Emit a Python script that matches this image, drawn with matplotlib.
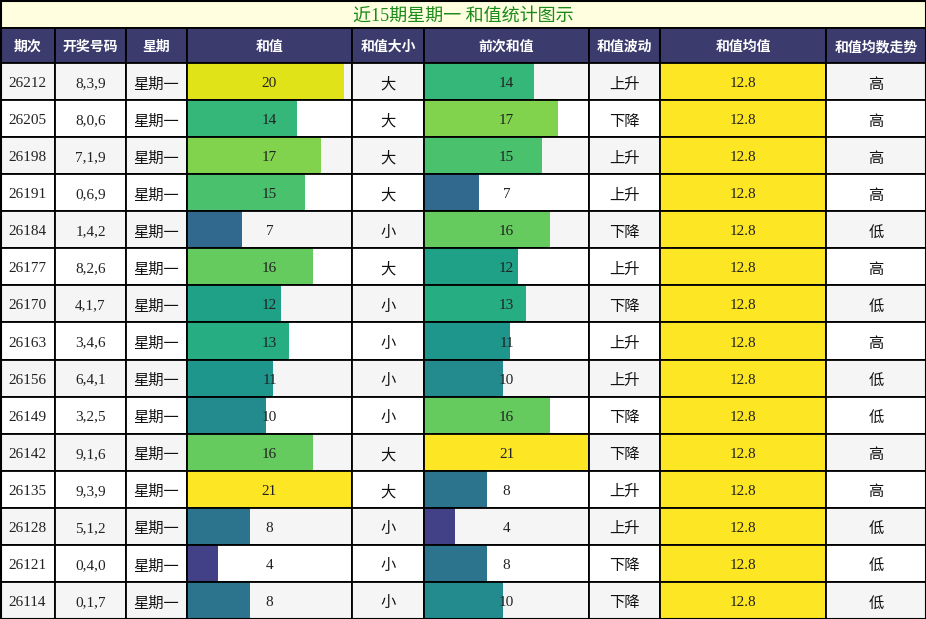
import matplotlib
matplotlib.use("Agg")
import matplotlib.pyplot as plt
from matplotlib.patches import Rectangle

issues = [26212, 26205, 26198, 26191, 26184, 26177, 26170, 26163,
          26156, 26149, 26142, 26135, 26128, 26121, 26114]
draws = ["8,3,9", "8,0,6", "7,1,9", "0,6,9", "1,4,2", "8,2,6", "4,1,7", "3,4,6",
         "6,4,1", "3,2,5", "9,1,6", "9,3,9", "5,1,2", "0,4,0", "0,1,7"]
weekday = "星期一"
sums = [20, 14, 17, 15, 7, 16, 12, 13, 11, 10, 16, 21, 8, 4, 8]
size_lbl = ["大", "大", "大", "大", "小", "大", "小", "小", "小", "小", "大", "大", "小", "小", "小"]
prev_sums = [14, 17, 15, 7, 16, 12, 13, 11, 10, 16, 21, 8, 4, 8, 10]
trend = ["上升", "下降", "上升", "上升", "下降", "上升", "下降", "上升",
         "上升", "下降", "下降", "上升", "上升", "下降", "下降"]
mean_val = 12.8
level = ["高", "高", "高", "高", "低", "高", "低", "高", "低", "低", "高", "高", "低", "低", "低"]

headers = ["期次", "开奖号码", "星期", "和值", "和值大小", "前次和值", "和值波动", "和值均值", "和值均数走势"]
col_w = [55, 71, 61, 165, 72, 165, 71, 166, 100]
title = "近15期星期一 和值统计图示"

W, H = 926, 619
title_h = 28
head_h = 35
row_h = (H - title_h - head_h) / len(issues)
vmax = max(max(sums), max(prev_sums))

serif = ["Liberation Serif", "Noto Sans CJK SC"]
cjk = ["Noto Sans CJK SC", "DejaVu Sans"]

fig = plt.figure(figsize=(W / 100, H / 100), dpi=100)
ax = fig.add_axes([0, 0, 1, 1])
ax.set_xlim(0, W)
ax.set_ylim(H, 0)
ax.axis("off")

cmap = plt.get_cmap("viridis")
lw = 1.3

# title row
ax.add_patch(Rectangle((0, 0), W, title_h, facecolor="#ffffe0", edgecolor="black", lw=lw))
ax.text(W / 2, title_h / 2 + 2, title, ha="center", va="center", fontsize=13,
        color="#1a8a1a", family=serif)

# header row
x_edges = [0]
for w in col_w:
    x_edges.append(x_edges[-1] + w)
for j, h in enumerate(headers):
    x0 = x_edges[j]
    ax.add_patch(Rectangle((x0, title_h), col_w[j], head_h, facecolor="#3c3b6e",
                           edgecolor="black", lw=lw))
    ax.text(x0 + col_w[j] / 2, title_h + head_h / 2 + 1.5, h, ha="center", va="center",
            fontsize=10, color="white", fontweight="bold", family=cjk)

# body rows
for i in range(len(issues)):
    y0 = title_h + head_h + i * row_h
    yc = y0 + row_h / 2
    bg = "#f5f5f5" if i % 2 == 0 else "white"
    cells = [str(issues[i]), draws[i], weekday, str(sums[i]), size_lbl[i],
             str(prev_sums[i]), trend[i], f"{mean_val:.1f}", level[i]]
    for j, txt in enumerate(cells):
        x0 = x_edges[j]
        face = "#fde725" if j == 7 else bg
        ax.add_patch(Rectangle((x0, y0), col_w[j], row_h, facecolor=face,
                               edgecolor="none"))
        if j in (3, 5):
            v = sums[i] if j == 3 else prev_sums[i]
            ax.add_patch(Rectangle((x0, y0), col_w[j] * v / vmax, row_h,
                                   facecolor=cmap(v / vmax), edgecolor="none"))
        is_num = j in (0, 1, 3, 5, 7)
        if is_num:
            ax.text(x0 + col_w[j] / 2, yc + 2, txt, ha="center", va="center",
                    fontsize=11, color="#222222", family=serif)
        else:
            ax.text(x0 + col_w[j] / 2, yc + 2.5, txt, ha="center", va="center",
                    fontsize=11, color="#111111", family=cjk)
        ax.add_patch(Rectangle((x0, y0), col_w[j], row_h, facecolor="none",
                               edgecolor="black", lw=lw))

# outer border
ax.add_patch(Rectangle((0.5, 0.5), W - 1, H - 1, facecolor="none", edgecolor="black", lw=1.5))

fig.savefig("out.png", dpi=100)
